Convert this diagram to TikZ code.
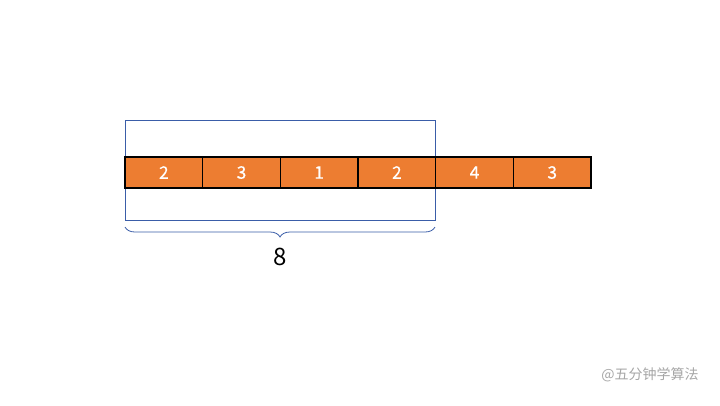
\documentclass[tikz,border=0pt]{standalone}
\usepackage{fontspec}
\setmainfont{Noto Sans CJK SC}
\newfontfamily\cjk{Noto Sans CJK SC}
\newfontfamily\cellfont[FakeBold=0.6]{Noto Sans CJK SC}
\usetikzlibrary{decorations.pathreplacing}
\definecolor{cellorange}{HTML}{ED7D31}
\definecolor{frameblue}{HTML}{3A5DA8}
\definecolor{wmgrey}{HTML}{A6A6A6}
\begin{document}
\begin{tikzpicture}[x=0.75pt,y=-0.75pt,
  cell/.style={draw=black,line width=0.8pt,fill=cellorange,text=white,
    minimum width=77.67*0.75pt,minimum height=31*0.75pt,inner sep=0pt,outer sep=0pt,
    font=\cellfont\fontsize{13}{15}\selectfont,anchor=west},
  window/.style={draw=frameblue,line width=0.6pt},
  bracefig/.style={draw=frameblue,line width=0.6pt,decorate,
    decoration={brace,mirror,amplitude=7.5pt}}]
\useasboundingbox (0,0) rectangle (720,405);
\node[window,minimum width=310*0.75pt,minimum height=100*0.75pt,inner sep=0pt,outer sep=0pt] (win) at (280,170) {};
\node[cell] (c1) at (125,172.5) {2};
\node[cell] (c2) at (c1.east) {3};
\node[cell] (c3) at (c2.east) {1};
\node[cell] (c4) at (c3.east) {2};
\node[cell] (c5) at (c4.east) {4};
\node[cell] (c6) at (c5.east) {3};
\coordinate (bl) at (125,227);
\coordinate (br) at (435,227);
\draw[bracefig] (bl) -- (br);
\node[font=\fontsize{18}{20}\selectfont] (sum) at (280,257) {8};
\node[text=wmgrey,font=\cjk\fontsize{10.5}{12}\selectfont] (wm) at (650,375) {@五分钟学算法};
\end{tikzpicture}
\end{document}
